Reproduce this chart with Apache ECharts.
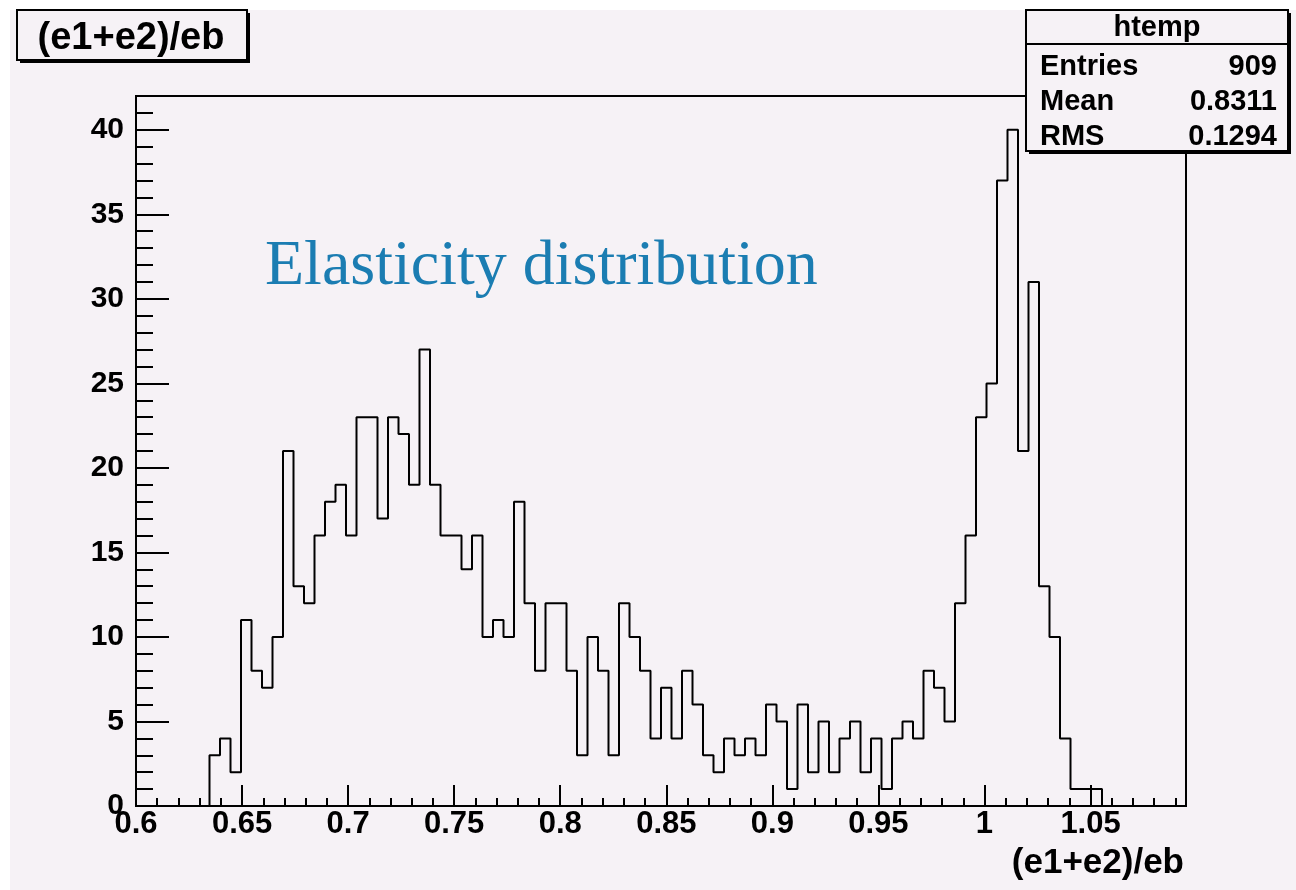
<!DOCTYPE html>
<html>
<head>
<meta charset="utf-8">
<script src="https://cdn.jsdelivr.net/npm/echarts@6/dist/echarts.min.js"></script>
<style>
  html, body { margin: 0; padding: 0; background: #ffffff; }
  #chart { width: 1296px; height: 890px; }
</style>
</head>
<body>
<div id="chart"></div>
<script>
// Histogram definition: 100 equal bins over the x range
const xRange = [0.6, 1.095];
const yRange = [0, 42];
const binCounts = [
  0, 0, 0, 0, 0, 0, 0,
  3, 4, 2, 11, 8, 7, 10, 21, 13, 12, 16, 18, 19, 16, 23, 23, 17, 23, 22, 19, 27,
  19, 16, 16, 14, 16, 10, 11, 10, 18, 12, 8, 12, 12, 8, 3, 10, 8, 3, 12, 10, 8, 4, 7, 4, 8, 6, 3, 2, 4, 3, 4, 3,
  6, 5, 1, 6, 2, 5, 2, 4, 5, 2, 4, 1, 4, 5, 4, 8, 7, 5, 12,
  16, 23, 25, 37, 40, 21, 31, 13, 10, 4, 1, 1, 1,
  0, 0, 0, 0, 0, 0, 0, 0
];
const xMajorStep = 0.05;
const xMinorStep = 0.01;
const yMajorStep = 5;
const yMinorStep = 1;

const histName = 'htemp';
const varName = '(e1+e2)/eb';
const statLabels = ['Entries', 'Mean', 'RMS'];
const statValues = ['909', '0.8311', '0.1294'];
const annotation = 'Elasticity distribution';

// Step outline: left edge of every bin, closed at the upper edge of the range
const binWidth = (xRange[1] - xRange[0]) / binCounts.length;
const stepPoints = binCounts.map((c, i) => [xRange[0] + i * binWidth, c]);
stepPoints.push([xRange[1], 0]);

const BG = '#f6f2f6';
const SANS = '"Liberation Sans", Arial, Helvetica, sans-serif';
const SERIF = '"Liberation Serif", "Times New Roman", serif';

const fmtX = v => String(+(+v).toFixed(3));

const chart = echarts.init(document.getElementById('chart'), null, { renderer: 'canvas' });

// framed boxes with a drop shadow, as used for the title and the statistics panel
function shadowBox(x, y, w, h) {
  return [
    { type: 'rect', z: 100, shape: { x: x + 3, y: y + 3, width: w, height: h }, style: { fill: '#000' } },
    { type: 'rect', z: 101, shape: { x: x, y: y, width: w, height: h }, style: { fill: BG, stroke: '#000', lineWidth: 2 } }
  ];
}

const statBox = { x: 1026, y: 10, w: 262, h: 141 };
const statRowY = [67, 102, 137];

const graphics = [
  // white margin on the top and left of the canvas
  { type: 'rect', z: 1, shape: { x: 0, y: 0, width: 1296, height: 10 }, style: { fill: '#ffffff' } },
  { type: 'rect', z: 1, shape: { x: 0, y: 0, width: 10, height: 890 }, style: { fill: '#ffffff' } },

  ...shadowBox(17, 10, 230, 50),
  { type: 'text', z: 102, x: 131, y: 39,
    style: { text: varName, fill: '#000', font: 'bold 38px ' + SANS, align: 'center', verticalAlign: 'middle' } },

  ...shadowBox(statBox.x, statBox.y, statBox.w, statBox.h),
  { type: 'line', z: 102, shape: { x1: statBox.x, y1: 44, x2: statBox.x + statBox.w, y2: 44 },
    style: { stroke: '#000', lineWidth: 2 } },
  { type: 'text', z: 102, x: statBox.x + statBox.w / 2, y: 28,
    style: { text: histName, fill: '#000', font: 'bold 29px ' + SANS, align: 'center', verticalAlign: 'middle' } },

  { type: 'text', z: 5, x: 265, y: 267,
    style: { text: annotation, fill: '#1b7db2', font: '64px ' + SERIF, align: 'left', verticalAlign: 'middle' } }
];

statLabels.forEach((lab, i) => {
  graphics.push({ type: 'text', z: 102, x: 1040, y: statRowY[i],
    style: { text: lab, fill: '#000', font: 'bold 29px ' + SANS, align: 'left', verticalAlign: 'middle' } });
  graphics.push({ type: 'text', z: 102, x: 1277, y: statRowY[i],
    style: { text: statValues[i], fill: '#000', font: 'bold 29px ' + SANS, align: 'right', verticalAlign: 'middle' } });
});

const gridBox = { left: 136, top: 96, width: 1050, height: 710 };

const option = {
  backgroundColor: BG,
  animation: false,
  grid: {
    left: gridBox.left, top: gridBox.top, width: gridBox.width, height: gridBox.height,
    show: true, borderColor: '#000', borderWidth: 2, backgroundColor: 'transparent',
    containLabel: false, outerBoundsMode: 'none'
  },
  xAxis: [
    {
      type: 'value', min: xRange[0], max: xRange[1], interval: xMajorStep, position: 'bottom',
      name: varName, nameLocation: 'end', nameGap: 0,
      nameTextStyle: { color: '#000', fontFamily: SANS, fontWeight: 'bold', fontSize: 35,
        align: 'right', verticalAlign: 'top', padding: [40, 2, 0, 0] },
      axisLine: { show: true, lineStyle: { color: '#000', width: 2 } },
      axisTick: { show: true, inside: true, length: 21, lineStyle: { color: '#000', width: 2 } },
      axisLabel: { show: true, margin: 3, color: '#000', fontFamily: SANS, fontWeight: 'bold', fontSize: 31,
        formatter: fmtX, showMaxLabel: false, showMinLabel: true },
      splitLine: { show: false }
    },
    {
      type: 'value', min: xRange[0], max: xRange[1], interval: xMinorStep, position: 'bottom',
      axisLine: { show: false },
      axisTick: { show: true, inside: true, length: 8, lineStyle: { color: '#000', width: 2 } },
      axisLabel: { show: false },
      splitLine: { show: false }
    }
  ],
  yAxis: [
    {
      type: 'value', min: yRange[0], max: yRange[1], interval: yMajorStep, position: 'left',
      axisLine: { show: true, lineStyle: { color: '#000', width: 2 } },
      axisTick: { show: true, inside: true, length: 33, lineStyle: { color: '#000', width: 2 } },
      axisLabel: { show: true, margin: 12, color: '#000', fontFamily: SANS, fontWeight: 'bold', fontSize: 30,
        showMaxLabel: false, showMinLabel: true },
      splitLine: { show: false }
    },
    {
      type: 'value', min: yRange[0], max: yRange[1], interval: yMinorStep, position: 'left',
      axisLine: { show: false },
      axisTick: { show: true, inside: true, length: 17, lineStyle: { color: '#000', width: 2 } },
      axisLabel: { show: false },
      splitLine: { show: false }
    }
  ],
  series: [
    {
      name: histName,
      type: 'line',
      xAxisIndex: 0, yAxisIndex: 0,
      step: 'end',
      data: stepPoints,
      showSymbol: false,
      symbol: 'none',
      lineStyle: { color: '#000', width: 2 },
      z: 3
    }
  ],
  graphic: { elements: graphics }
};

chart.setOption(option);
</script>
</body>
</html>
